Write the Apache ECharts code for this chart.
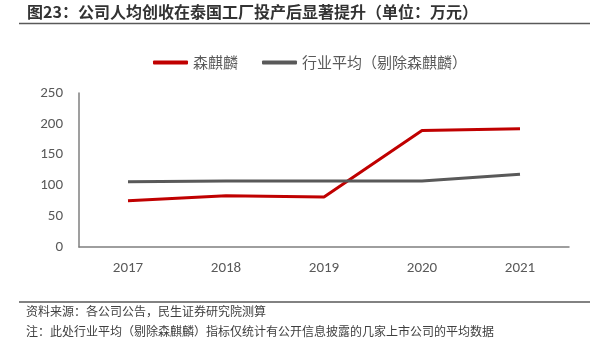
<!DOCTYPE html>
<html>
<head>
<meta charset="utf-8">
<script src="https://cdn.jsdelivr.net/npm/echarts@6/dist/echarts.min.js"></script>
<style>
  html, body { margin: 0; padding: 0; background: #fff; }
  #main { width: 608px; height: 352px; }
</style>
</head>
<body>
<div id="main"></div>
<script>
// 数据
const years = ['2017', '2018', '2019', '2020', '2021']
const senqilin = [75, 83, 81, 189, 192]
const industryAvg = [106, 107, 107, 107, 118]
const yTicks = [0, 50, 100, 150, 200, 250]

const cjk = '"Noto Sans CJK SC", "Microsoft YaHei", sans-serif'
const num = 'Calibri, Carlito, "Liberation Sans", sans-serif'
const chart = echarts.init(document.getElementById('main'), null, { renderer: 'canvas' })

chart.setOption({
  animation: false,
  textStyle: { fontFamily: cjk },
  legend: {
    top: 50,
    left: 148,
    itemWidth: 35,
    itemHeight: 4,
    itemGap: 24,
    icon: 'roundRect',
    textStyle: { fontSize: 15, color: '#595959', fontFamily: cjk },
    data: ['森麒麟', '行业平均（剔除森麒麟）']
  },
  grid: { left: 79, right: 39, top: 93, bottom: 105, containLabel: false },
  xAxis: {
    type: 'category',
    data: years,
    boundaryGap: true,
    axisLine: { lineStyle: { color: '#7f7f7f', width: 1.5 } },
    axisTick: { show: false },
    axisLabel: { color: '#595959', fontSize: 15, margin: 14, fontFamily: num }
  },
  yAxis: {
    type: 'value',
    min: yTicks[0],
    max: yTicks[yTicks.length - 1],
    interval: 50,
    splitLine: { show: false },
    axisLine: { show: true, lineStyle: { color: '#7f7f7f', width: 1.5 } },
    axisTick: { show: false },
    axisLabel: { color: '#595959', fontSize: 15, margin: 16, fontFamily: num }
  },
  series: [{
    name: '森麒麟',
    type: 'line',
    data: senqilin,
    symbol: 'none',
    lineStyle: { color: '#c00000', width: 3 },
    itemStyle: { color: '#c00000' }
  }, {
    name: '行业平均（剔除森麒麟）',
    type: 'line',
    data: industryAvg,
    symbol: 'none',
    lineStyle: { color: '#595959', width: 3 },
    itemStyle: { color: '#595959' }
  }],
  graphic: [{
    type: 'text',
    left: 27,
    top: 4,
    style: {
      text: '图23：公司人均创收在泰国工厂投产后显著提升（单位：万元）',
      fontSize: 16,
      fontWeight: 'bold',
      fill: '#333333',
      fontFamily: cjk
    }
  }, {
    type: 'line',
    shape: { x1: 19, y1: 23.5, x2: 590, y2: 23.5 },
    style: { stroke: '#595959', lineWidth: 1.5 }
  }, {
    type: 'line',
    shape: { x1: 19, y1: 302, x2: 590, y2: 302 },
    style: { stroke: '#595959', lineWidth: 1.5 }
  }, {
    type: 'text',
    left: 26,
    top: 305,
    style: {
      text: '资料来源：各公司公告，民生证券研究院测算',
      fontSize: 12,
      fill: '#404040',
      fontFamily: cjk
    }
  }, {
    type: 'text',
    left: 26,
    top: 325,
    style: {
      text: '注：此处行业平均（剔除森麒麟）指标仅统计有公开信息披露的几家上市公司的平均数据',
      fontSize: 12,
      fill: '#404040',
      fontFamily: cjk
    }
  }]
})
</script>
</body>
</html>
